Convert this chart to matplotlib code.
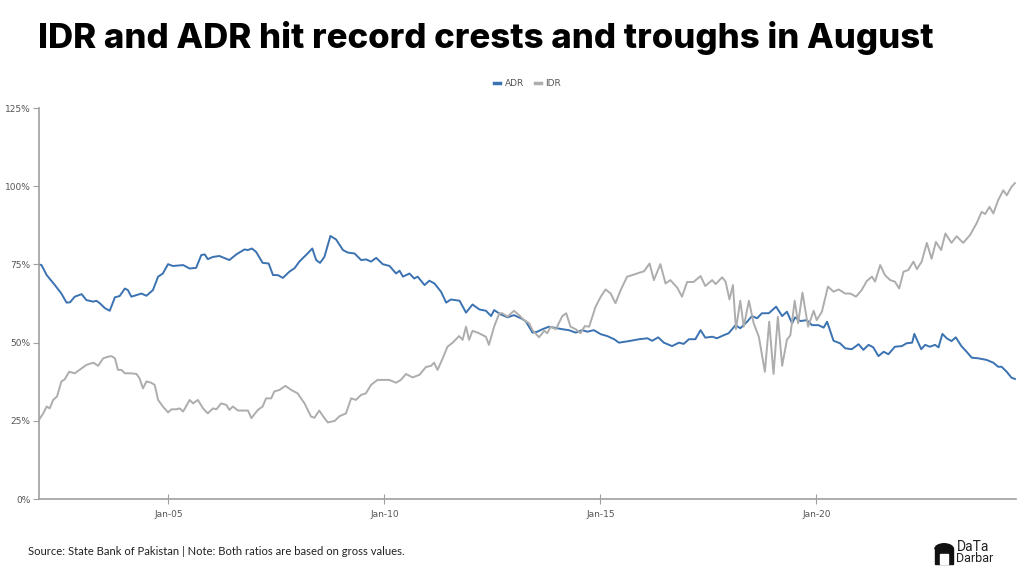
import numpy as np
import matplotlib.pyplot as plt
from matplotlib.patches import Rectangle, Wedge

# ADR (advances to deposits ratio), decimal year -> percent
adr_years = [2002.00, 2002.06, 2002.18, 2002.37, 2002.52, 2002.64, 2002.72, 2002.83, 2002.99, 2003.10,
             2003.26, 2003.33, 2003.41, 2003.53, 2003.64, 2003.76, 2003.87, 2003.99, 2004.06, 2004.14,
             2004.26, 2004.37, 2004.49, 2004.64, 2004.76, 2004.87, 2004.99, 2005.10, 2005.34, 2005.49,
             2005.64, 2005.76, 2005.84, 2005.91, 2006.03, 2006.18, 2006.34, 2006.41, 2006.57, 2006.76,
             2006.84, 2006.93, 2007.03, 2007.18, 2007.32, 2007.42, 2007.53, 2007.65, 2007.80, 2007.92,
             2008.03, 2008.22, 2008.33, 2008.42, 2008.51, 2008.61, 2008.75, 2008.88, 2009.04, 2009.15,
             2009.31, 2009.46, 2009.58, 2009.69, 2009.81, 2009.96, 2010.12, 2010.27, 2010.35, 2010.43,
             2010.58, 2010.69, 2010.77, 2010.93, 2011.04, 2011.16, 2011.31, 2011.43, 2011.54, 2011.74,
             2011.89, 2012.04, 2012.20, 2012.35, 2012.47, 2012.54, 2012.70, 2012.85, 2013.00, 2013.16,
             2013.27, 2013.43, 2013.54, 2013.66, 2013.81, 2013.93, 2014.12, 2014.27, 2014.43, 2014.58,
             2014.70, 2014.85, 2015.01, 2015.16, 2015.32, 2015.43, 2015.66, 2015.90, 2016.09, 2016.20,
             2016.34, 2016.47, 2016.66, 2016.82, 2016.93, 2017.05, 2017.20, 2017.32, 2017.43, 2017.59,
             2017.70, 2017.86, 2017.97, 2018.13, 2018.24, 2018.40, 2018.51, 2018.63, 2018.74, 2018.90,
             2019.07, 2019.21, 2019.32, 2019.44, 2019.51, 2019.63, 2019.78, 2019.90, 2020.05, 2020.17,
             2020.25, 2020.40, 2020.55, 2020.67, 2020.82, 2020.98, 2021.09, 2021.21, 2021.32, 2021.44,
             2021.56, 2021.67, 2021.82, 2021.98, 2022.09, 2022.22, 2022.27, 2022.43, 2022.52, 2022.63,
             2022.75, 2022.83, 2022.92, 2023.02, 2023.13, 2023.23, 2023.36, 2023.48, 2023.60, 2023.75,
             2023.94, 2024.10, 2024.21, 2024.29, 2024.41, 2024.52, 2024.60]
adr_values = [75.0, 74.8, 71.6, 68.4, 65.7, 62.8, 62.9, 64.7, 65.5, 63.6,
              63.1, 63.4, 62.6, 61.0, 60.2, 64.5, 64.9, 67.3, 66.8, 64.7,
              65.2, 65.7, 65.0, 66.8, 71.1, 72.1, 75.1, 74.5, 74.8, 73.7,
              73.9, 78.0, 78.2, 76.7, 77.4, 77.7, 76.8, 76.4, 78.2, 79.8,
              79.6, 80.1, 79.0, 75.5, 75.3, 71.6, 71.6, 70.7, 72.7, 73.8,
              75.9, 78.5, 80.1, 76.4, 75.5, 77.4, 84.1, 83.0, 79.6, 78.8,
              78.5, 76.4, 76.6, 75.9, 77.1, 75.1, 74.5, 72.1, 73.0, 71.1,
              72.1, 70.5, 71.1, 68.4, 69.8, 68.9, 66.3, 62.8, 63.8, 63.4,
              59.6, 62.2, 60.6, 60.2, 58.5, 60.4, 59.0, 58.1, 58.8, 57.8,
              56.9, 53.2, 53.5, 54.3, 55.1, 54.8, 54.3, 54.0, 53.2, 54.0,
              53.5, 54.0, 52.7, 52.1, 51.1, 50.0, 50.5, 51.1, 51.4, 50.6,
              51.7, 50.0, 48.9, 50.0, 49.6, 51.1, 51.1, 54.0, 51.6, 51.9,
              51.4, 52.4, 53.0, 55.6, 54.6, 56.7, 58.5, 57.8, 59.4, 59.4,
              61.5, 58.5, 59.9, 56.2, 58.1, 56.9, 57.2, 55.6, 55.6, 54.8,
              56.7, 50.6, 49.8, 48.2, 47.9, 49.5, 47.7, 49.3, 48.5, 45.7,
              47.1, 46.3, 48.7, 48.9, 49.8, 50.0, 52.8, 47.9, 49.3, 48.7,
              49.3, 48.5, 52.8, 51.4, 50.5, 51.7, 48.9, 47.1, 45.2, 45.0,
              44.5, 43.6, 42.3, 42.3, 40.7, 38.8, 38.4]

# IDR (investment to deposits ratio), decimal year -> percent
idr_years = [2002.00, 2002.10, 2002.18, 2002.25, 2002.33, 2002.42, 2002.52, 2002.60, 2002.70, 2002.83,
             2002.99, 2003.10, 2003.26, 2003.37, 2003.49, 2003.60, 2003.68, 2003.76, 2003.83, 2003.91,
             2003.99, 2004.14, 2004.26, 2004.33, 2004.41, 2004.49, 2004.60, 2004.68, 2004.76, 2004.87,
             2004.99, 2005.07, 2005.18, 2005.26, 2005.34, 2005.49, 2005.57, 2005.68, 2005.80, 2005.91,
             2006.03, 2006.11, 2006.22, 2006.34, 2006.41, 2006.49, 2006.61, 2006.84, 2006.92, 2007.07,
             2007.18, 2007.26, 2007.38, 2007.45, 2007.57, 2007.71, 2007.84, 2007.99, 2008.15, 2008.30,
             2008.38, 2008.49, 2008.61, 2008.69, 2008.85, 2008.96, 2009.11, 2009.23, 2009.34, 2009.46,
             2009.57, 2009.69, 2009.84, 2010.11, 2010.27, 2010.38, 2010.50, 2010.65, 2010.81, 2010.96,
             2011.08, 2011.15, 2011.23, 2011.35, 2011.46, 2011.58, 2011.73, 2011.81, 2011.89, 2011.96,
             2012.04, 2012.19, 2012.35, 2012.42, 2012.54, 2012.66, 2012.73, 2012.85, 2013.00, 2013.12,
             2013.23, 2013.35, 2013.43, 2013.58, 2013.70, 2013.77, 2013.85, 2013.97, 2014.12, 2014.21,
             2014.31, 2014.43, 2014.54, 2014.64, 2014.74, 2014.89, 2015.01, 2015.12, 2015.24, 2015.35,
             2015.47, 2015.62, 2015.74, 2015.89, 2016.01, 2016.14, 2016.24, 2016.39, 2016.51, 2016.62,
             2016.78, 2016.89, 2017.01, 2017.16, 2017.32, 2017.43, 2017.59, 2017.67, 2017.82, 2017.90,
             2017.99, 2018.07, 2018.14, 2018.24, 2018.32, 2018.44, 2018.55, 2018.67, 2018.81, 2018.91,
             2019.01, 2019.11, 2019.21, 2019.32, 2019.40, 2019.50, 2019.58, 2019.68, 2019.81, 2019.94,
             2020.01, 2020.13, 2020.27, 2020.40, 2020.52, 2020.67, 2020.79, 2020.92, 2021.05, 2021.17,
             2021.29, 2021.36, 2021.48, 2021.59, 2021.71, 2021.82, 2021.92, 2022.02, 2022.13, 2022.25,
             2022.33, 2022.44, 2022.56, 2022.67, 2022.77, 2022.89, 2022.99, 2023.13, 2023.25, 2023.40,
             2023.56, 2023.71, 2023.83, 2023.91, 2024.01, 2024.10, 2024.21, 2024.33, 2024.41, 2024.52,
             2024.60]
idr_values = [25.3, 27.4, 29.6, 29.0, 31.7, 32.8, 37.6, 38.3, 40.7, 40.2,
              41.8, 42.9, 43.6, 42.6, 45.0, 45.5, 45.7, 45.0, 41.3, 41.3,
              40.2, 40.2, 40.0, 38.6, 35.4, 37.6, 37.2, 36.5, 31.7, 29.6,
              27.7, 28.7, 28.7, 29.0, 28.0, 31.7, 30.6, 31.7, 29.0, 27.4,
              29.0, 28.7, 30.6, 30.1, 28.5, 29.6, 28.3, 28.3, 25.9, 28.5,
              29.6, 32.2, 32.2, 34.4, 34.9, 36.2, 34.9, 33.8, 30.6, 26.4,
              26.0, 28.3, 25.9, 24.5, 25.0, 26.5, 27.4, 32.2, 31.7, 33.3,
              33.8, 36.5, 38.1, 38.1, 37.2, 38.1, 40.0, 38.9, 39.7, 42.2,
              42.6, 43.6, 41.3, 45.0, 48.7, 50.0, 52.1, 50.9, 55.1, 50.9,
              53.8, 53.0, 51.9, 49.3, 55.1, 59.4, 59.4, 58.3, 60.2, 58.8,
              57.2, 56.2, 54.0, 51.7, 53.8, 53.0, 55.1, 54.3, 58.5, 59.4,
              55.1, 54.3, 53.0, 55.3, 55.1, 61.5, 64.7, 67.0, 65.7, 62.6,
              66.8, 71.1, 71.6, 72.3, 72.8, 75.3, 70.0, 75.1, 68.9, 70.0,
              67.6, 64.7, 69.4, 69.4, 71.3, 68.1, 70.0, 68.7, 70.9, 69.5,
              63.8, 68.4, 54.3, 63.4, 55.1, 63.4, 56.2, 51.9, 40.7, 56.7,
              40.0, 58.3, 42.6, 50.9, 52.4, 63.4, 56.2, 66.0, 55.1, 60.2,
              57.2, 59.9, 67.9, 66.3, 67.0, 65.7, 65.7, 64.7, 66.8, 69.7,
              71.1, 69.5, 74.8, 71.6, 70.0, 69.5, 67.3, 72.7, 73.2, 75.9,
              73.5, 75.9, 81.9, 76.8, 82.2, 79.6, 84.9, 81.9, 84.0, 81.9,
              84.4, 88.1, 91.8, 91.1, 93.4, 91.3, 95.5, 98.7, 97.1, 99.8,
              101.0]

x_ticks = [2005, 2010, 2015, 2020]
x_labels = ["Jan-05", "Jan-10", "Jan-15", "Jan-20"]
y_ticks = [0, 25, 50, 75, 100, 125]

adr_color = "#3b72b1"
idr_color = "#adadad"
axis_color = "#a0a0a0"
label_color = "#555555"

fig = plt.figure(figsize=(10.24, 5.76), dpi=100)
ax = fig.add_axes([0.038, 0.1335, 0.954, 0.679])

ax.plot(adr_years, adr_values, color=adr_color, lw=1.4, label="ADR")
ax.plot(idr_years, idr_values, color=idr_color, lw=1.4, label="IDR")

ax.set_xlim(2002.0, 2024.62)
ax.set_ylim(0, 125)
ax.set_xticks(x_ticks)
ax.set_xticklabels(x_labels)
ax.set_yticks(y_ticks)
ax.set_yticklabels([f"{v}%" for v in y_ticks])

for side in ["top", "right"]:
    ax.spines[side].set_visible(False)
for side in ["left", "bottom"]:
    ax.spines[side].set_color(axis_color)
    ax.spines[side].set_linewidth(1.2)
ax.tick_params(axis="y", direction="out", length=4, color=axis_color, labelsize=6.5,
               labelcolor=label_color, pad=2)
ax.tick_params(axis="x", direction="inout", length=7, color=axis_color, labelsize=6.5,
               labelcolor=label_color, pad=4)

leg = ax.legend(loc="lower center", bbox_to_anchor=(0.5, 1.03), ncol=2, frameon=False,
                fontsize=6.5, handlelength=0.7, handletextpad=0.5, columnspacing=1.2)
for h in leg.get_lines():
    h.set_linewidth(2.5)
for t in leg.get_texts():
    t.set_color(label_color)

fig.text(0.037, 1 - 48 / 576, "IDR and ADR hit record crests and troughs in August",
         fontsize=25, fontweight="heavy", family=["Inter", "DejaVu Sans"],
         ha="left", va="baseline", color="black")

fig.text(0.027, 0.043, "Source: State Bank of Pakistan | Note: Both ratios are based on gross values.",
         fontsize=8.1, family=["Lato", "DejaVu Sans"], ha="left", va="center", color="#222222")

# logo stand-in: small dome icon plus wordmark
fig.patches.append(Rectangle((0.913, 0.021), 0.018, 0.027, transform=fig.transFigure,
                             color="#111111", zorder=5))
fig.patches.append(Wedge((0.922, 0.047), 0.009, 0, 180, transform=fig.transFigure,
                         color="#111111", zorder=5))
fig.patches.append(Rectangle((0.918, 0.021), 0.008, 0.018, transform=fig.transFigure,
                             color="white", zorder=6))
fig.text(0.934, 0.051, "DaTa", fontsize=10, family=["Roboto", "DejaVu Sans"],
         ha="left", va="center", color="#222222")
fig.text(0.934, 0.030, "Darbar", fontsize=9, family=["Roboto", "DejaVu Sans"],
         ha="left", va="center", color="#222222")

fig.savefig("out.png", dpi=100)
